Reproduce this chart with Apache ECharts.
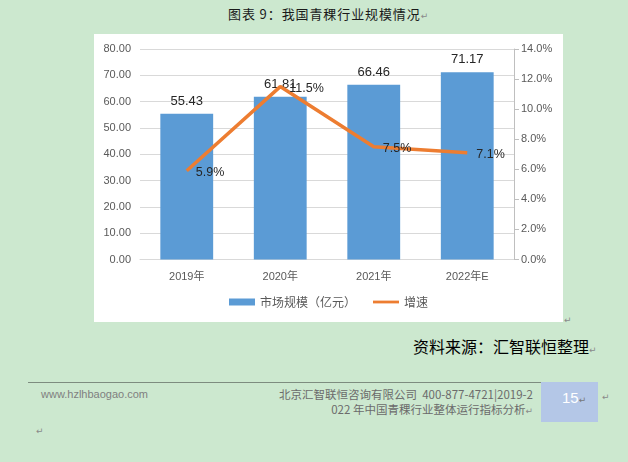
<!DOCTYPE html>
<html><head><meta charset="utf-8">
<script src="https://cdn.jsdelivr.net/npm/echarts@6/dist/echarts.min.js"></script>
<style>
html,body{margin:0;padding:0;}
body{width:628px;height:462px;background:#CCE8CF;position:relative;overflow:hidden;font-family:"Noto Sans CJK SC","Liberation Sans",sans-serif;}
.t{position:absolute;white-space:nowrap;line-height:1;}
.pm{color:#8a8a8a;font-family:"DejaVu Sans";font-size:9px;letter-spacing:0;}
#chart{position:absolute;left:94px;top:34px;width:469px;height:288px;background:#fff;}
</style></head><body>
<div class="t" style="left:228px;top:7px;font-size:13px;color:#1a1a1a;letter-spacing:0.9px;">图表 9：我国青稞行业规模情况<span class="pm">↵</span></div>
<div id="chart"></div>
<div class="t pm" style="left:564px;top:316px;">↵</div>
<div class="t" style="left:413px;top:338px;font-size:16px;color:#000;">资料来源：汇智联恒整理<span class="pm">↵</span></div>
<div style="position:absolute;left:28px;top:382px;width:513px;height:1px;background:#7d8c7f;"></div>
<div class="t" style="left:41px;top:389px;font-size:11px;color:#7f7f7f;font-family:'Liberation Sans';">www.hzlhbaogao.com</div>
<div class="t" style="right:95px;top:389px;font-size:11.5px;color:#6b6b6b;text-align:right;">北京汇智联恒咨询有限公司&nbsp; 400-877-4721|2019-2</div>
<div class="t" style="right:95px;top:404px;font-size:11.5px;color:#6b6b6b;text-align:right;">022 年中国青稞行业整体运行指标分析<span class="pm">↵</span></div>
<div style="position:absolute;left:541px;top:382px;width:57px;height:40px;background:#B4C7E7;"></div>
<div class="t" style="left:562px;top:390px;font-size:15px;color:#fff;font-family:'Liberation Sans';">15<span class="pm" style="color:#777">↵</span></div>
<div class="t pm" style="left:602px;top:393px;">↵</div>
<div class="t pm" style="left:36px;top:427px;">↵</div>
<script>
const categories = ['2019年', '2020年', '2021年', '2022年E'];
const marketSize = [55.43, 61.81, 66.46, 71.17];
const growthRate = [5.9, 11.5, 7.5, 7.1];
const barName = '市场规模（亿元）';
const lineName = '增速';

const chart = echarts.init(document.getElementById('chart'));
const numFont = 'Liberation Sans, Noto Sans CJK SC, sans-serif';
chart.setOption({
  animation: false,
  grid: {left: 46, right: 49, top: 15, bottom: 62.5},
  legend: {
    bottom: 9, left: 'center', itemWidth: 26, itemHeight: 7, itemGap: 17,
    textStyle: {fontSize: 12, color: '#595959', fontFamily: 'Noto Sans CJK SC'},
    data: [
      {name: barName, icon: 'rect'},
      {name: lineName, icon: 'path://M0,0 L28,0 L28,3 L0,3 Z', itemStyle: {color: '#ED7D31'}}
    ]
  },
  xAxis: {
    type: 'category', data: categories,
    axisLine: {show: true, lineStyle: {color: '#D9D9D9'}},
    axisTick: {show: false},
    axisLabel: {color: '#595959', fontSize: 11, margin: 12, fontFamily: numFont}
  },
  yAxis: [{
    type: 'value', min: 0, max: 80, interval: 10,
    axisLine: {show: false}, axisTick: {show: false},
    splitLine: {lineStyle: {color: '#D9D9D9'}},
    axisLabel: {color: '#595959', fontSize: 11, margin: 9, fontFamily: numFont,
      formatter: v => v.toFixed(2)}
  }, {
    type: 'value', min: 0, max: 14, interval: 2,
    axisLine: {show: true, lineStyle: {color: '#BFBFBF'}},
    axisTick: {show: true, length: 5, lineStyle: {color: '#BFBFBF'}},
    splitLine: {show: false},
    axisLabel: {color: '#595959', fontSize: 11, margin: 7, fontFamily: numFont,
      formatter: v => v.toFixed(1) + '%'}
  }],
  series: [{
    name: barName, type: 'bar', data: marketSize, barWidth: '56.5%',
    itemStyle: {color: '#5B9BD5'},
    label: {show: true, position: 'top', distance: 6, color: '#262626', fontSize: 13, fontFamily: numFont,
      formatter: p => p.value.toFixed(2)}
  }, {
    name: lineName, type: 'line', yAxisIndex: 1, data: growthRate,
    symbol: 'circle', symbolSize: 0.1, showSymbol: true,
    lineStyle: {color: '#ED7D31', width: 3.5}, itemStyle: {color: '#ED7D31'},
    label: {show: true, position: 'right', distance: 9, offset: [0, 2], color: '#262626', fontSize: 12.5, fontFamily: numFont,
      formatter: p => p.value.toFixed(1) + '%'}
  }]
});
</script>
</body></html>
